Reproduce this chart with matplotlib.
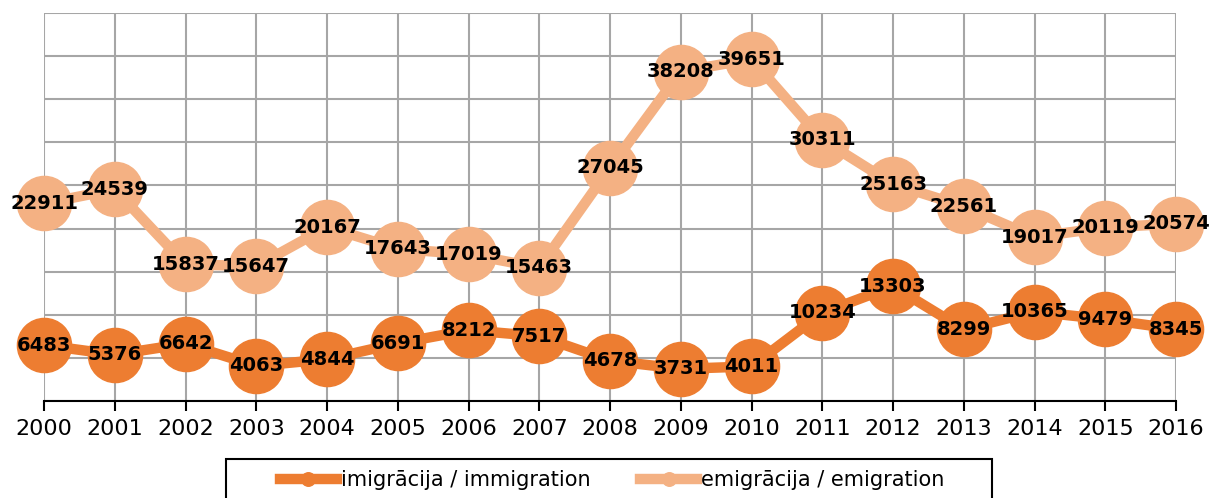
import matplotlib.pyplot as plt
from matplotlib.patches import Rectangle

years = [str(y) for y in range(2000, 2017)]
immigration = [6483, 5376, 6642, 4063, 4844, 6691, 8212, 7517, 4678, 3731,
               4011, 10234, 13303, 8299, 10365, 9479, 8345]
emigration = [22911, 24539, 15837, 15647, 20167, 17643, 17019, 15463, 27045,
              38208, 39651, 30311, 25163, 22561, 19017, 20119, 20574]

c_imm = '#ED7D31'
c_emi = '#F4B183'

fig = plt.figure(figsize=(12.1, 4.98), dpi=100)
ax = fig.add_axes([0.0364, 0.1948, 0.9355, 0.7791])

x = list(range(len(years)))
ax.plot(x, immigration, color=c_imm, lw=7.5, marker='o', ms=39,
        label='imigrācija / immigration', clip_on=False, zorder=3)
ax.plot(x, emigration, color=c_emi, lw=7.5, marker='o', ms=39,
        label='emigrācija / emigration', clip_on=False, zorder=3)

for xi, v in zip(x, immigration):
    ax.text(xi, v, str(v), ha='center', va='center', fontsize=14,
            fontweight='bold', zorder=5, clip_on=False)
for xi, v in zip(x, emigration):
    ax.text(xi, v, str(v), ha='center', va='center', fontsize=14,
            fontweight='bold', zorder=5, clip_on=False)

ax.set_xlim(0, len(years) - 1)
ax.set_ylim(0, 45000)
ax.set_xticks(x)
ax.set_xticklabels(years, fontsize=16)
ax.set_yticks(range(0, 45001, 5000))
ax.tick_params(axis='y', left=False, labelleft=False)
ax.tick_params(axis='x', direction='out', length=7, width=1.5, color='black', pad=6)
ax.grid(True, color='#A6A6A6', lw=1.5)
ax.set_axisbelow(True)
for s in ['left', 'right', 'top']:
    ax.spines[s].set_visible(False)
ax.spines['bottom'].set_color('black')
ax.spines['bottom'].set_linewidth(1.5)
ax.spines['bottom'].set_zorder(2)

# legend frame runs off the bottom edge, as in the original
fig.patches.append(Rectangle((0.1868, -0.05), 0.633, 0.1283, transform=fig.transFigure,
                             facecolor='none', edgecolor='black', lw=1.5))
leg = fig.legend(loc='center', bbox_to_anchor=(0.506, 0.036), ncol=2,
                 fontsize=15, frameon=False, markerscale=0.25,
                 handlelength=2.7, columnspacing=2.4, borderpad=0,
                 borderaxespad=0, handletextpad=0.2)

fig.savefig('out.png', dpi=100)
